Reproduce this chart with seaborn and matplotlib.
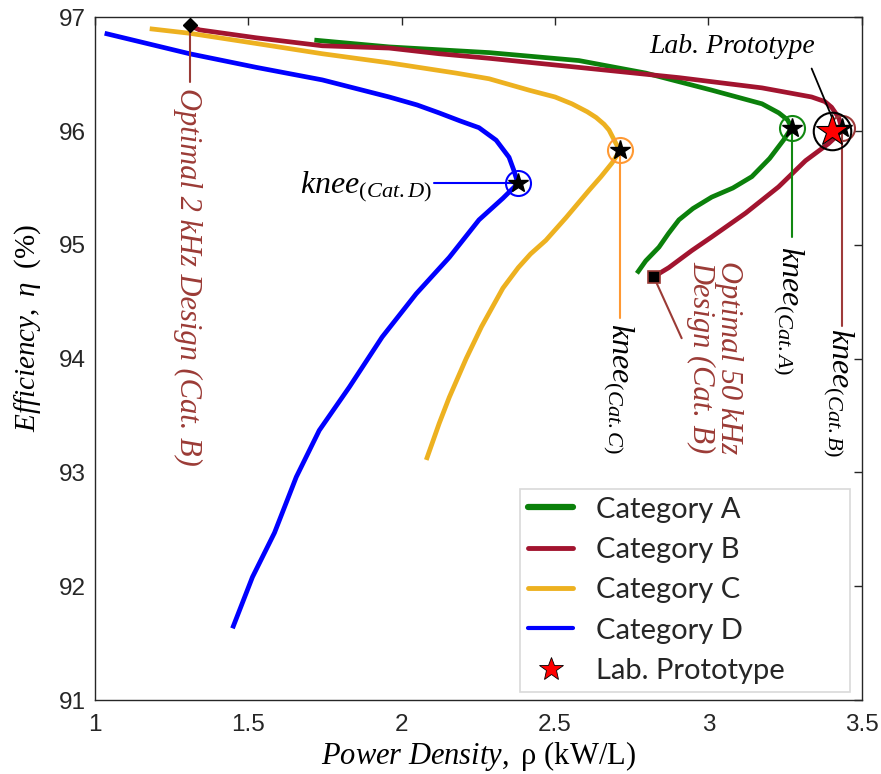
import numpy as np
import pandas as pd
import matplotlib
matplotlib.use("Agg")
import matplotlib.pyplot as plt
import seaborn as sns
from matplotlib.lines import Line2D

# Pareto fronts: power density (kW/L) vs efficiency (%)
cat_a_x = [1.715, 1.959, 2.285, 2.578, 2.796, 3.011, 3.175, 3.230, 3.258, 3.272,
           3.245, 3.200, 3.142, 3.080, 3.011, 2.950, 2.904, 2.870, 2.839,
           2.796, 2.767]
cat_a_y = [96.80, 96.74, 96.69, 96.62, 96.51, 96.36, 96.24, 96.16, 96.10, 96.03,
           95.92, 95.76, 95.60, 95.50, 95.42, 95.32, 95.22, 95.10, 94.98,
           94.86, 94.75]

cat_b_x = [1.308, 1.340, 1.526, 1.741, 1.959, 2.122, 2.285, 2.578, 2.904,
           3.175, 3.337, 3.380, 3.402, 3.425, 3.435, 3.420, 3.392, 3.317,
           3.229, 3.122, 3.011, 2.946, 2.871, 2.822]
cat_b_y = [96.93, 96.89, 96.82, 96.75, 96.73, 96.68, 96.64, 96.56, 96.47,
           96.38, 96.30, 96.26, 96.21, 96.12, 96.03, 95.96, 95.89, 95.74,
           95.51, 95.28, 95.07, 94.95, 94.80, 94.72]

cat_c_x = [1.178, 1.308, 1.526, 1.741, 1.959, 2.177, 2.285, 2.415, 2.500,
           2.555, 2.605, 2.634, 2.660, 2.676, 2.699, 2.712, 2.686, 2.650,
           2.611, 2.536, 2.470, 2.420, 2.380, 2.330, 2.295, 2.260, 2.210,
           2.155, 2.122, 2.080]
cat_c_y = [96.90, 96.86, 96.77, 96.68, 96.60, 96.51, 96.46, 96.36, 96.30,
           96.24, 96.17, 96.12, 96.06, 96.01, 95.89, 95.83, 95.72, 95.60,
           95.48, 95.24, 95.04, 94.92, 94.80, 94.62, 94.45, 94.28, 94.00,
           93.66, 93.43, 93.11]

cat_d_x = [1.031, 1.308, 1.526, 1.741, 1.959, 2.050, 2.122, 2.190, 2.252,
           2.308, 2.350, 2.365, 2.379, 2.330, 2.252, 2.155, 2.047, 1.936,
           1.829, 1.731, 1.656, 1.585, 1.513, 1.448]
cat_d_y = [96.86, 96.68, 96.56, 96.45, 96.30, 96.23, 96.16, 96.09, 96.03,
           95.92, 95.77, 95.66, 95.54, 95.41, 95.22, 94.89, 94.57, 94.19,
           93.75, 93.37, 92.96, 92.47, 92.08, 91.63]

categories = ["Category A", "Category B", "Category C", "Category D"]

# knee points of each front
knee_x = [3.272, 3.435, 2.712, 2.379]
knee_y = [96.03, 96.03, 95.83, 95.54]

# measured laboratory prototype
proto_x = [3.405]
proto_y = [96.00]

x_ticks = [1, 1.5, 2, 2.5, 3, 3.5]
x_tick_labels = ["1", "1.5", "2", "2.5", "3", "3.5"]
y_ticks = [91, 92, 93, 94, 95, 96, 97]

line_colors = {"Category A": "#0b800b", "Category B": "#a2142f",
               "Category C": "#edb120", "Category D": "#0000ff"}
knee_colors = ["#118811", "#9e3a3a", "#ff9933", "#0000ff"]
note_color = "#9b3b36"

frames = []
for name, xs, ys in zip(categories,
                        [cat_a_x, cat_b_x, cat_c_x, cat_d_x],
                        [cat_a_y, cat_b_y, cat_c_y, cat_d_y]):
    frames.append(pd.DataFrame({"category": name, "rho": xs, "eta": ys,
                                "step": np.arange(len(xs))}))
df = pd.concat(frames, ignore_index=True)

sns.set_theme(style="white")
plt.rcParams["mathtext.fontset"] = "custom"
plt.rcParams["mathtext.it"] = "Liberation Serif:italic"
plt.rcParams["mathtext.rm"] = "Liberation Serif"
plt.rcParams["mathtext.bf"] = "Liberation Serif:bold"

fig = plt.figure(figsize=(8.81, 7.74), dpi=100)
ax = fig.add_axes([0.108, 0.0956, 0.870, 0.882])

sns.lineplot(data=df, x="rho", y="eta", hue="category", units="category",
             estimator=None, sort=False, palette=line_colors, linewidth=3.4,
             ax=ax, legend=False)
for ln in ax.get_lines():
    ln.set_solid_joinstyle("round")
    ln.set_solid_capstyle("butt")

ax.set_xlim(1, 3.5)
ax.set_ylim(91, 97)
ax.set_xticks(x_ticks)
ax.set_xticklabels(x_tick_labels)
ax.set_yticks(y_ticks)
ax.tick_params(direction="in", length=6, width=1, colors="#262626",
               top=True, right=True, labelsize=17.5)
ax.tick_params(axis="y", pad=7)
ax.tick_params(axis="x", pad=10)
for lab in ax.get_xticklabels() + ax.get_yticklabels():
    lab.set_family("Liberation Sans")
    lab.set_color("#262626")
for sp in ax.spines.values():
    sp.set_color("#262626")
    sp.set_linewidth(1.0)

# knee markers and their leader lines / labels
serif_it = dict(family="Liberation Serif", style="italic")
for i, (kx, ky) in enumerate(zip(knee_x, knee_y)):
    ax.plot(kx, ky, marker="o", ms=18, mfc="none", mec=knee_colors[i],
            mew=1.5, zorder=5)
    ax.plot(kx, ky, marker="*", ms=15, color="black", zorder=6)

# Cat.D: horizontal leader to the left
ax.plot([2.106, knee_x[3]], [knee_y[3], knee_y[3]], color=knee_colors[3], lw=1.5, zorder=4)
ax.text(2.10, 95.455, r"$knee_{(Cat.D)}$", ha="right", va="baseline",
        fontsize=23, color="black")

# Cat.C, Cat.A, Cat.B: vertical leaders downward with rotated labels
ax.plot([knee_x[2], knee_x[2]], [knee_y[2], 94.36], color=knee_colors[2], lw=1.5, zorder=4)
ax.text(2.708, 94.31, r"$knee_{(Cat.C)}$", rotation=-90, ha="center", va="top",
        fontsize=23, color="black")
ax.plot([knee_x[0], knee_x[0]], [knee_y[0], 95.07], color=knee_colors[0], lw=1.5, zorder=4)
ax.text(3.262, 94.99, r"$knee_{(Cat.A)}$", rotation=-90, ha="center", va="top",
        fontsize=23, color="black")
ax.plot([knee_x[1], knee_x[1]], [knee_y[1], 94.29], color=knee_colors[1], lw=1.5, zorder=4)
ax.text(3.425, 94.27, r"$knee_{(Cat.B)}$", rotation=-90, ha="center", va="top",
        fontsize=23, color="black")

# optimal designs of Category B
ax.plot(cat_b_x[0], cat_b_y[0], marker="D", ms=7, color="black", zorder=6)
ax.plot([cat_b_x[0], cat_b_x[0]], [cat_b_y[0], 96.43], color=note_color, lw=1.5, zorder=4)
ax.text(1.300, 96.38, "Optimal 2 kHz Design (Cat. B)", rotation=-90,
        ha="center", va="top", fontsize=22, color=note_color, **serif_it)

ax.plot(cat_b_x[-1], cat_b_y[-1], marker="s", ms=8, mfc="black", mec=note_color,
        mew=1.2, zorder=6)
ax.plot([cat_b_x[-1], 2.913], [cat_b_y[-1], 94.18], color=note_color, lw=1.5, zorder=4)
ax.text(3.02, 94.86, "Optimal 50 kHz\nDesign (Cat. B)", rotation=-90,
        ha="center", va="top", fontsize=22, color=note_color, linespacing=0.92,
        multialignment="left", **serif_it)

# laboratory prototype
ax.plot(proto_x, proto_y, marker="o", ms=27, mfc="none", mec="black", mew=1.5, zorder=7)
ax.plot(proto_x, proto_y, marker="*", ms=24, mfc="red", mec="black", mew=0.8,
        linestyle="none", zorder=8)
ax.plot([3.337, 3.405], [96.55, 96.11], color="black", lw=1.3, zorder=4)
ax.text(3.077, 96.74, "Lab. Prototype", ha="center", va="center",
        fontsize=20, color="black", **serif_it)

# axis titles
ax.set_xlabel(r"$\mathit{Power\ Density,}$ ρ (kW/L)", fontsize=22,
              family="Liberation Serif", color="black", labelpad=2)
ax.set_ylabel(r"$\mathit{Efficiency,\ \eta\ \ (\%)}$", fontsize=21,
              family="Liberation Serif", color="black")
ax.yaxis.set_label_coords(-0.068, 0.545)

# legend
handles = [Line2D([], [], color=line_colors["Category A"], lw=4.5),
           Line2D([], [], color=line_colors["Category B"], lw=3.5),
           Line2D([], [], color=line_colors["Category C"], lw=3.5),
           Line2D([], [], color=line_colors["Category D"], lw=3.0),
           Line2D([], [], marker="*", color="red", mec="black", mew=0.6,
                  ms=18, linestyle="none")]
labels = categories + ["Lab. Prototype"]
leg = ax.legend(handles, labels, loc="lower left",
                bbox_to_anchor=(0.554, 0.0117, 0.4305, 0.3), mode="expand",
                frameon=True, fancybox=False, framealpha=1, edgecolor="#d9d9d9",
                prop={"family": "Lato", "size": 21}, handlelength=1.55,
                handletextpad=0.8, labelspacing=0.49, borderpad=0.28,
                borderaxespad=0)
leg.get_frame().set_linewidth(1.2)

fig.savefig("out.png", dpi=100)
